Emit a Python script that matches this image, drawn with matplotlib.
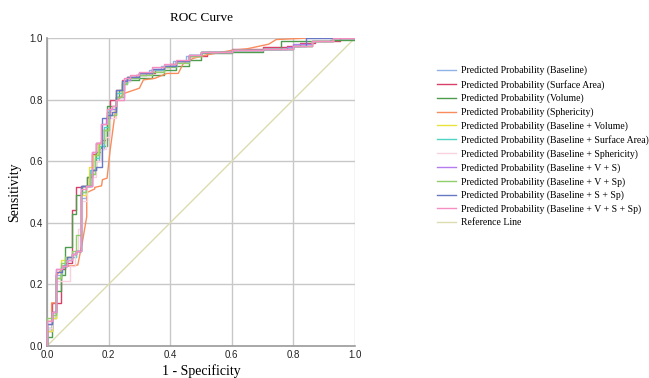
import matplotlib
matplotlib.use("Agg")
import matplotlib.pyplot as plt

# ---- data (fpr = 1 - specificity, tpr = sensitivity), step points ----
labels = [
    "Predicted Probability (Baseline)",
    "Predicted Probability (Surface Area)",
    "Predicted Probability (Volume)",
    "Predicted Probability (Sphericity)",
    "Predicted Probability (Baseline + Volume)",
    "Predicted Probability (Baseline + Surface Area)",
    "Predicted Probability (Baseline + Sphericity)",
    "Predicted Probability (Baseline + V + S)",
    "Predicted Probability (Baseline + V + Sp)",
    "Predicted Probability (Baseline + S + Sp)",
    "Predicted Probability (Baseline + V + S + Sp)",
]
colors = ["#8fb3e6", "#d8406a", "#4e9c4e", "#f98c5c", "#e9e23c", "#4fd4c4",
          "#f9d2de", "#b57cf0", "#8fd06a", "#6877c4", "#f78ec2"]

baseline_fpr = [0, 0.015, 0.03, 0.05, 0.065, 0.08, 0.095, 0.11, 0.125, 0.14, 0.155, 0.17, 0.185, 0.2, 0.225, 0.245, 0.26, 0.29, 0.33, 0.37, 0.41, 0.45, 0.5, 0.6, 0.7, 0.8, 0.86, 0.93, 1.0]
baseline_tpr = [0.06, 0.10, 0.23, 0.26, 0.28, 0.29, 0.31, 0.48, 0.52, 0.56, 0.60, 0.64, 0.70, 0.75, 0.81, 0.85, 0.87, 0.88, 0.895, 0.91, 0.925, 0.94, 0.955, 0.96, 0.965, 0.975, 0.99, 1.0, 1.0]

surface_fpr = [0, 0.015, 0.045, 0.06, 0.08, 0.095, 0.115, 0.13, 0.145, 0.16, 0.175, 0.195, 0.205, 0.225, 0.245, 0.26, 0.29, 0.32, 0.35, 0.38, 0.40, 0.42, 0.46, 0.52, 0.6, 0.7, 0.78, 0.82, 0.87, 0.95, 1.0]
surface_tpr = [0.05, 0.14, 0.25, 0.27, 0.44, 0.515, 0.52, 0.55, 0.625, 0.66, 0.67, 0.76, 0.80, 0.83, 0.865, 0.875, 0.88, 0.885, 0.895, 0.905, 0.915, 0.925, 0.94, 0.955, 0.965, 0.97, 0.975, 0.985, 0.99, 1.0, 1.0]

volume_fpr = [0, 0.015, 0.03, 0.045, 0.06, 0.08, 0.095, 0.115, 0.13, 0.145, 0.16, 0.175, 0.195, 0.225, 0.235, 0.25, 0.27, 0.3, 0.34, 0.38, 0.42, 0.46, 0.5, 0.6, 0.7, 0.76, 0.84, 0.92, 1.0]
volume_tpr = [0.03, 0.09, 0.18, 0.23, 0.32, 0.43, 0.49, 0.52, 0.55, 0.57, 0.63, 0.65, 0.78, 0.81, 0.83, 0.86, 0.865, 0.87, 0.88, 0.895, 0.91, 0.93, 0.95, 0.955, 0.965, 0.99, 0.99, 0.995, 1.0]

sphericity_fpr = [0, 0.0, 0.015, 0.015, 0.03, 0.03, 0.05, 0.05, 0.08, 0.10, 0.116, 0.129, 0.129, 0.155, 0.155, 0.177, 0.18, 0.195, 0.205, 0.226, 0.25, 0.30, 0.313, 0.35, 0.389, 0.426, 0.443, 0.475, 0.518, 0.6, 0.65, 0.72, 0.744, 0.85, 1.0]
sphericity_tpr = [0, 0.08, 0.08, 0.14, 0.14, 0.23, 0.25, 0.26, 0.26, 0.263, 0.344, 0.42, 0.498, 0.51, 0.515, 0.52, 0.54, 0.545, 0.636, 0.793, 0.82, 0.837, 0.864, 0.869, 0.885, 0.885, 0.918, 0.934, 0.945, 0.96, 0.965, 0.98, 0.995, 1.0, 1.0]

bv_fpr = [0, 0.015, 0.03, 0.045, 0.06, 0.08, 0.095, 0.11, 0.125, 0.135, 0.15, 0.165, 0.18, 0.2, 0.225, 0.245, 0.26, 0.3, 0.34, 0.38, 0.42, 0.46, 0.5, 0.6, 0.7, 0.8, 0.86, 0.93, 1.0]
bv_tpr = [0.05, 0.09, 0.22, 0.28, 0.29, 0.30, 0.31, 0.49, 0.52, 0.58, 0.62, 0.66, 0.70, 0.76, 0.82, 0.86, 0.875, 0.885, 0.895, 0.91, 0.925, 0.94, 0.955, 0.96, 0.965, 0.975, 0.99, 1.0, 1.0]

bsa_fpr = [0, 0.015, 0.03, 0.045, 0.06, 0.08, 0.095, 0.11, 0.125, 0.14, 0.155, 0.17, 0.185, 0.2, 0.225, 0.245, 0.26, 0.3, 0.34, 0.38, 0.42, 0.46, 0.5, 0.6, 0.7, 0.8, 0.86, 0.93, 1.0]
bsa_tpr = [0.06, 0.11, 0.22, 0.26, 0.28, 0.29, 0.31, 0.50, 0.52, 0.57, 0.61, 0.65, 0.71, 0.77, 0.82, 0.855, 0.875, 0.885, 0.895, 0.91, 0.925, 0.945, 0.955, 0.96, 0.965, 0.975, 0.99, 1.0, 1.0]

bsph_fpr = [0, 0.015, 0.03, 0.045, 0.075, 0.09, 0.1, 0.115, 0.13, 0.145, 0.16, 0.175, 0.19, 0.205, 0.225, 0.25, 0.27, 0.3, 0.34, 0.38, 0.42, 0.46, 0.5, 0.6, 0.7, 0.8, 0.86, 0.93, 1.0]
bsph_tpr = [0.06, 0.10, 0.21, 0.21, 0.26, 0.31, 0.38, 0.47, 0.52, 0.55, 0.60, 0.64, 0.68, 0.74, 0.80, 0.86, 0.875, 0.885, 0.9, 0.91, 0.925, 0.94, 0.955, 0.96, 0.965, 0.975, 0.99, 1.0, 1.0]

bvs_fpr = [0, 0.015, 0.03, 0.05, 0.065, 0.08, 0.095, 0.11, 0.125, 0.145, 0.16, 0.175, 0.19, 0.205, 0.225, 0.25, 0.27, 0.3, 0.34, 0.38, 0.42, 0.46, 0.5, 0.6, 0.7, 0.78, 0.8, 0.86, 0.93, 1.0]
bvs_tpr = [0.07, 0.11, 0.25, 0.26, 0.29, 0.30, 0.31, 0.52, 0.52, 0.63, 0.66, 0.72, 0.74, 0.77, 0.81, 0.865, 0.875, 0.885, 0.9, 0.91, 0.925, 0.945, 0.955, 0.96, 0.965, 0.97, 0.98, 0.99, 1.0, 1.0]

bvsp_fpr = [0, 0.015, 0.03, 0.045, 0.06, 0.08, 0.095, 0.11, 0.125, 0.14, 0.155, 0.17, 0.185, 0.2, 0.225, 0.245, 0.26, 0.3, 0.34, 0.38, 0.42, 0.46, 0.5, 0.6, 0.7, 0.8, 0.86, 0.93, 1.0]
bvsp_tpr = [0.09, 0.10, 0.22, 0.27, 0.29, 0.31, 0.36, 0.50, 0.52, 0.56, 0.62, 0.66, 0.70, 0.75, 0.81, 0.85, 0.87, 0.88, 0.89, 0.905, 0.92, 0.94, 0.955, 0.96, 0.965, 0.975, 0.99, 1.0, 1.0]

bssp_fpr = [0, 0.015, 0.03, 0.05, 0.065, 0.08, 0.095, 0.11, 0.125, 0.145, 0.16, 0.18, 0.195, 0.21, 0.225, 0.245, 0.26, 0.3, 0.34, 0.38, 0.42, 0.46, 0.5, 0.6, 0.7, 0.8, 0.84, 0.93, 1.0]
bssp_tpr = [0.07, 0.11, 0.24, 0.26, 0.29, 0.30, 0.31, 0.52, 0.52, 0.57, 0.58, 0.74, 0.75, 0.76, 0.83, 0.86, 0.875, 0.885, 0.9, 0.91, 0.925, 0.945, 0.955, 0.96, 0.965, 0.975, 1.0, 1.0, 1.0]

bvssp_fpr = [0, 0.015, 0.03, 0.05, 0.065, 0.08, 0.095, 0.11, 0.125, 0.145, 0.16, 0.175, 0.195, 0.21, 0.225, 0.25, 0.27, 0.3, 0.34, 0.38, 0.42, 0.46, 0.5, 0.6, 0.7, 0.8, 0.86, 0.93, 1.0]
bvssp_tpr = [0.08, 0.11, 0.25, 0.26, 0.28, 0.30, 0.31, 0.51, 0.52, 0.63, 0.66, 0.72, 0.77, 0.78, 0.80, 0.87, 0.88, 0.89, 0.905, 0.915, 0.93, 0.945, 0.955, 0.96, 0.965, 0.975, 0.99, 1.0, 1.0]

series_fpr = [baseline_fpr, surface_fpr, volume_fpr, sphericity_fpr, bv_fpr, bsa_fpr,
              bsph_fpr, bvs_fpr, bvsp_fpr, bssp_fpr, bvssp_fpr]
series_tpr = [baseline_tpr, surface_tpr, volume_tpr, sphericity_tpr, bv_tpr, bsa_tpr,
              bsph_tpr, bvs_tpr, bvsp_tpr, bssp_tpr, bvssp_tpr]

ref_x = [0, 1]
ref_y = [0, 1]
ticks = [0.0, 0.2, 0.4, 0.6, 0.8, 1.0]
tick_labels = ["0.0", "0.2", "0.4", "0.6", "0.8", "1.0"]

# ---- figure ----
fig = plt.figure(figsize=(6.49, 3.78), dpi=100)
ax = fig.add_axes([47 / 649, 1 - 346 / 378, 308 / 649, 308 / 378])

for i, (fx, ty) in enumerate(zip(series_fpr, series_tpr)):
    if i == 3:
        ax.plot(fx, ty, color=colors[i], lw=1.0, label=labels[i], zorder=3)
    else:
        ax.plot([0] + fx, [0] + ty, color=colors[i], lw=1.0, label=labels[i],
                drawstyle="steps-post", zorder=3)
ax.plot(ref_x, ref_y, color="#dcdcb0", lw=1.0, label="Reference Line", zorder=2)

ax.set_xlim(0, 1)
ax.set_ylim(0, 1)
ax.set_xticks(ticks)
ax.set_yticks(ticks)
ax.set_xticklabels(tick_labels, fontfamily="Liberation Sans", fontsize=7)
ax.set_yticklabels(tick_labels, fontfamily="Liberation Sans", fontsize=7)
ax.tick_params(length=0, pad=3, colors="#222222")
ax.grid(True, color="#c8c8c8", lw=1.0)
ax.set_axisbelow(True)
for side in ["top", "right"]:
    ax.spines[side].set_visible(False)
for side in ["left", "bottom"]:
    ax.spines[side].set_color("#9a9a9a")
    ax.spines[side].set_linewidth(1.2)

ax.set_title("ROC Curve", fontfamily="Liberation Serif", fontsize=9.5, pad=12)
ax.set_xlabel("1 - Specificity", fontfamily="Liberation Serif", fontsize=10, labelpad=3)
ax.set_ylabel("Sensitivity", fontfamily="Liberation Serif", fontsize=10, labelpad=6)

handles, labs = ax.get_legend_handles_labels()
fig.legend(handles, labs, loc="upper left", bbox_to_anchor=(433 / 649, 1 - 62 / 378),
           frameon=False, prop={"family": "Liberation Serif", "size": 7},
           handlelength=2.0, handletextpad=0.5, labelspacing=0.43, borderaxespad=0)

fig.savefig("out.png", dpi=100)
